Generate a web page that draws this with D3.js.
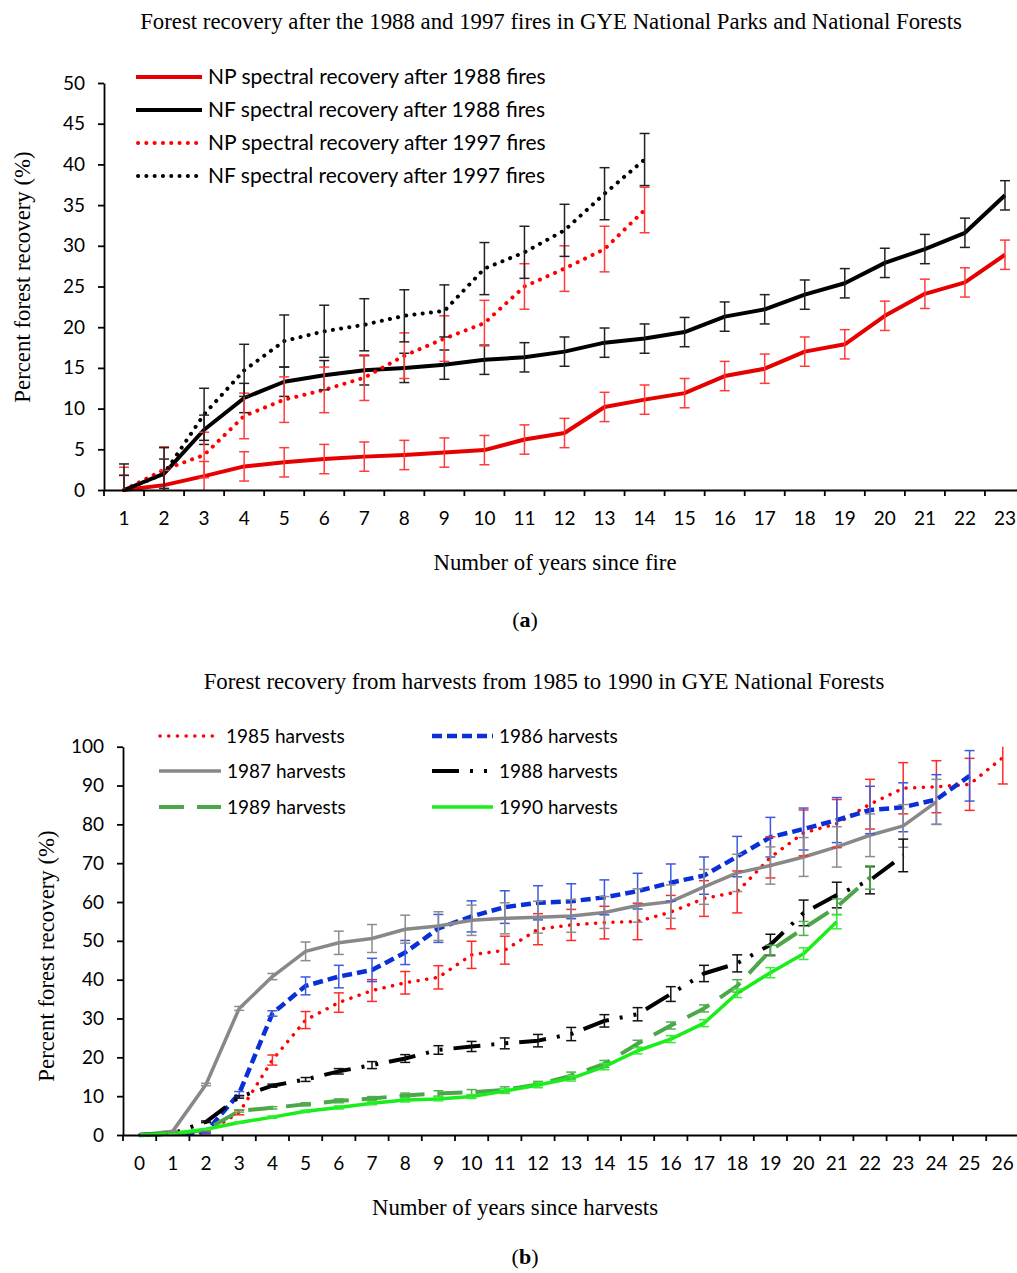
<!DOCTYPE html>
<meta charset="utf-8">
<style>
body { margin: 0; background: #fff; }
text { font-family: Lato, "Liberation Sans", sans-serif; fill: #000; }
.serif { font-family: "Liberation Serif", "Times New Roman", serif; }
.axis path, .axis line { stroke: #000; stroke-width: 1.8px; }
.axis text { font-size: 19px; font-family: Lato, sans-serif; }
</style>
<body>
<script src="https://d3js.org/d3.v7.min.js"></script>
<script>

// ---------- panel (a): fires ----------
var fireYears = [1,2,3,4,5,6,7,8,9,10,11,12,13,14,15,16,17,18,19,20,21,22,23];
var fireTicks = [0,5,10,15,20,25,30,35,40,45,50];

var npFire1988    = [0,0.6,1.7,2.9,3.4,3.8,4.1,4.3,4.6,4.9,6.2,7.0,10.2,11.1,11.9,14.0,14.9,17.0,17.9,21.4,24.1,25.5,28.9];
var npFire1988Err = [1.8,1.8,1.8,1.8,1.8,1.8,1.8,1.8,1.8,1.8,1.8,1.8,1.8,1.8,1.8,1.8,1.8,1.8,1.8,1.8,1.8,1.8,1.8];
var nfFire1988    = [0,2.0,7.4,11.3,13.3,14.1,14.7,15.0,15.4,16.0,16.3,17.0,18.1,18.6,19.4,21.3,22.2,24.0,25.4,27.9,29.6,31.6,36.2];
var nfFire1988Err = [1.8,1.8,1.8,1.8,1.8,1.8,1.8,1.8,1.8,1.8,1.8,1.8,1.8,1.8,1.8,1.8,1.8,1.8,1.8,1.8,1.8,1.8,1.8];
var npFire1997    = [0,2.5,4.3,9.1,11.1,12.3,13.8,16.5,18.6,20.5,25.0,27.2,29.6,34.4];
var npFire1997Err = [2.8,2.8,2.8,2.8,2.8,2.8,2.8,2.8,2.8,2.8,2.8,2.8,2.8,2.8];
var nfFire1997    = [0,2.0,9.3,14.7,18.3,19.5,20.3,21.4,22.0,27.2,29.2,31.9,36.4,40.6];
var nfFire1997Err = [3.2,3.2,3.2,3.2,3.2,3.2,3.2,3.2,3.2,3.2,3.2,3.2,3.2,3.2];

// ---------- panel (b): harvests ----------
var harvestYears = [0,1,2,3,4,5,6,7,8,9,10,11,12,13,14,15,16,17,18,19,20,21,22,23,24,25,26];
var harvestTicks = [0,10,20,30,40,50,60,70,80,90,100];

var h1985    = [0,0.3,0.6,5.8,19.3,29.6,34.1,37.2,39.2,40.6,46.4,47.6,53.0,54.1,54.7,55.0,57.4,60.9,62.6,71.5,77.8,80.2,85.2,89.3,89.7,90.3,97.2];
var h1985Err = [0,0.2,0.3,0.6,1.3,2.2,2.5,2.8,2.9,3.0,3.5,3.6,4.0,4.0,4.2,4.7,4.3,4.6,5.4,5.3,5.9,6.2,6.4,6.6,6.7,6.7,6.8];
var h1986    = [0,0.4,0.8,10.7,31.3,38.4,40.8,42.5,47.0,53.2,56.3,58.7,59.8,60.2,61.2,62.8,65.0,66.8,71.7,76.7,78.8,81.1,83.7,84.4,86.4,92.5];
var h1986Err = [0,0.2,0.3,0.5,0.7,2.3,2.9,3.0,3.1,3.6,4.0,4.2,4.4,4.5,4.5,4.6,4.8,4.8,5.2,5.1,5.4,5.8,6.1,6.3,6.4,6.5];
var h1987    = [0,1.0,13.0,32.6,40.8,47.3,49.5,50.6,53.0,53.8,55.3,55.8,56.1,56.4,57.3,59.1,60.1,63.9,67.5,69.4,71.6,74.2,77.2,79.6,85.8];
var h1987Err = [0,0.1,0.3,0.5,0.8,2.4,3.0,3.6,3.6,3.7,3.9,4.0,4.1,4.2,4.1,4.3,4.3,4.5,4.8,4.8,5.0,5.2,5.5,5.5,5.8];
var h1988    = [0,0.4,3.4,9.8,12.7,14.3,16.4,18.0,19.7,21.9,22.8,23.6,24.3,26.0,29.4,31.1,36.3,41.6,44.2,49.0,57.2,61.8,65.6,72.0];
var h1988Err = [0,0.1,0.2,0.3,0.4,0.5,0.7,0.9,1.0,1.1,1.3,1.4,1.6,1.7,1.6,1.7,1.9,2.1,2.2,2.7,3.3,3.3,3.5,4.2];
var h1989    = [0,0.3,1.3,6.2,7.0,7.9,8.8,9.4,10.2,10.7,11.0,11.6,13.0,15.3,18.3,23.5,28.2,32.6,38.4,47.5,53.2,58.8,66.3];
var h1989Err = [0,0.1,0.2,0.3,0.3,0.4,0.5,0.5,0.6,0.7,0.7,0.8,0.8,0.9,0.9,0.9,0.9,0.9,1.6,1.4,1.8,2.0,3.0];
var h1990    = [0,0.4,1.5,3.2,4.6,6.1,7.1,8.2,9.0,9.3,9.9,11.3,12.9,14.6,17.6,21.7,24.7,28.8,36.5,41.8,46.7,54.9];
var h1990Err = [0,0.1,0.1,0.2,0.3,0.3,0.4,0.4,0.5,0.5,0.5,0.6,0.6,0.7,0.8,0.8,0.9,0.9,1.1,1.3,1.5,1.8];

var svg = d3.select("body").append("svg")
    .attr("width", 1017)
    .attr("height", 1273);

function drawPanel(p) {
    var x = d3.scaleBand().domain(p.categories).range([p.left, p.right]);
    var y = d3.scaleLinear().domain([0, p.yMax]).range([p.bottom, p.top]);
    var cx = function(c) { return x(c) + x.bandwidth() / 2; };
    var g = svg.append("g");

    // lines
    p.series.forEach(function(s) {
        var pts = s.values.map(function(v, i) { return {c: p.categories[i], v: v, e: s.errors[i]}; });
        s.pts = pts;
        g.append("path")
            .datum(pts)
            .attr("fill", "none")
            .attr("stroke", s.color)
            .attr("stroke-width", s.width)
            .attr("stroke-dasharray", s.dash || null)
            .attr("stroke-linecap", s.cap || "butt")
            .attr("stroke-linejoin", "round")
            .attr("d", d3.line().x(function(d) { return cx(d.c); }).y(function(d) { return y(d.v); }));
    });

    // error bars (clipped to the plot area, no cap where clipped)
    p.series.forEach(function(s) {
        var eb = g.append("g").attr("stroke", s.errColor).attr("stroke-width", 1.5);
        s.pts.filter(function(d) { return d.e > 0; }).forEach(function(d) {
            var hi = d.v + d.e, lo = d.v - d.e;
            eb.append("line")
                .attr("x1", cx(d.c)).attr("x2", cx(d.c))
                .attr("y1", y(Math.min(hi, p.yMax))).attr("y2", y(Math.max(lo, 0)));
            if (hi <= p.yMax) eb.append("line")
                .attr("x1", cx(d.c) - 5).attr("x2", cx(d.c) + 5)
                .attr("y1", y(hi)).attr("y2", y(hi));
            if (lo >= 0) eb.append("line")
                .attr("x1", cx(d.c) - 5).attr("x2", cx(d.c) + 5)
                .attr("y1", y(lo)).attr("y2", y(lo));
        });
    });

    // axes
    svg.append("g")
        .attr("class", "axis")
        .attr("transform", "translate(" + p.left + ",0)")
        .call(d3.axisLeft(y).tickValues(p.yTicks).tickSize(6).tickSizeOuter(0).tickPadding(13));

    var xa = svg.append("g")
        .attr("class", "axis")
        .attr("transform", "translate(0," + p.bottom + ")")
        .call(d3.axisBottom(x).tickSize(0).tickSizeOuter(0).tickPadding(22));
    xa.selectAll(".boundary")
        .data(p.categories.concat(["end"]))
        .enter().append("line")
        .attr("class", "boundary")
        .attr("x1", function(c) { return c === "end" ? p.right : x(c); })
        .attr("x2", function(c) { return c === "end" ? p.right : x(c); })
        .attr("y1", 0).attr("y2", 6);

    // titles
    svg.append("text").attr("class", "serif")
        .attr("x", p.titleX).attr("y", p.titleY)
        .attr("text-anchor", "middle").style("font-size", "22.8px")
        .text(p.title);
    svg.append("text").attr("class", "serif")
        .attr("x", p.xTitleX).attr("y", p.xTitleY)
        .attr("text-anchor", "middle").style("font-size", "22.8px")
        .text(p.xTitle);
    svg.append("text").attr("class", "serif")
        .attr("transform", "translate(" + p.yTitleX + "," + p.yTitleY + ") rotate(-90)")
        .attr("text-anchor", "middle").style("font-size", "22.8px")
        .text(p.yTitle);
    var lab = svg.append("text").attr("class", "serif")
        .attr("x", p.labelX).attr("y", p.labelY)
        .attr("text-anchor", "middle").style("font-size", "22px");
    lab.append("tspan").text("(");
    lab.append("tspan").style("font-weight", "bold").text(p.label);
    lab.append("tspan").text(")");

    // legend
    var lg = svg.append("g").attr("class", "legend");
    p.series.forEach(function(s) {
        var L = s.legend;
        lg.append("line")
            .attr("x1", L.x).attr("x2", L.x + L.len)
            .attr("y1", L.y).attr("y2", L.y)
            .attr("stroke", s.color)
            .attr("stroke-width", s.width)
            .attr("stroke-dasharray", s.dash || null)
            .attr("stroke-linecap", s.cap || "butt");
        lg.append("text")
            .attr("x", L.x + L.len + 6).attr("y", L.y)
            .attr("dy", "0.35em")
            .style("font-size", p.legendSize)
            .text(s.name);
    });
}

drawPanel({
    categories: fireYears, yMax: 50, yTicks: fireTicks,
    left: 104, right: 1025, top: 83, bottom: 490,
    title: "Forest recovery after the 1988 and 1997 fires in GYE National Parks and National Forests",
    titleX: 551, titleY: 29,
    xTitle: "Number of years since fire", xTitleX: 555, xTitleY: 570,
    yTitle: "Percent forest recovery (%)", yTitleX: 30, yTitleY: 277,
    label: "a", labelX: 525, labelY: 627,
    legendSize: "21px",
    series: [
        {name: "NP spectral recovery after 1988 fires", values: npFire1988, errors: npFire1988Err,
         color: "#e60000", errColor: "#ff3b3b", width: 4, legend: {x: 136, y: 77, len: 66}},
        {name: "NF spectral recovery after 1988 fires", values: nfFire1988, errors: nfFire1988Err,
         color: "#000", errColor: "#222", width: 4, legend: {x: 136, y: 110, len: 66}},
        {name: "NP spectral recovery after 1997 fires", values: npFire1997, errors: npFire1997Err,
         color: "#ff0000", errColor: "#ff3b3b", width: 4, dash: "0.1 8.2", cap: "round", legend: {x: 138, y: 143, len: 64}},
        {name: "NF spectral recovery after 1997 fires", values: nfFire1997, errors: nfFire1997Err,
         color: "#000", errColor: "#222", width: 4, dash: "0.1 8.2", cap: "round", legend: {x: 138, y: 176, len: 64}}
    ]
});

drawPanel({
    categories: harvestYears, yMax: 100, yTicks: harvestTicks,
    left: 123, right: 1019.4, top: 746.7, bottom: 1135,
    title: "Forest recovery from harvests from 1985 to 1990 in GYE National Forests",
    titleX: 544, titleY: 689,
    xTitle: "Number of years since harvests", xTitleX: 515, xTitleY: 1215,
    yTitle: "Percent forest recovery (%)", yTitleX: 54, yTitleY: 956,
    label: "b", labelX: 525, labelY: 1264,
    legendSize: "19px",
    series: [
        {name: "1985 harvests", values: h1985, errors: h1985Err,
         color: "#ff0000", errColor: "#ff2a2a", width: 3.5, dash: "0.1 8.6", cap: "round", legend: {x: 160, y: 736, len: 60}},
        {name: "1986 harvests", values: h1986, errors: h1986Err,
         color: "#0a2fd6", errColor: "#3a5ae0", width: 4.5, dash: "10 5", legend: {x: 432, y: 736, len: 61}},
        {name: "1987 harvests", values: h1987, errors: h1987Err,
         color: "#888", errColor: "#8c8c8c", width: 3.5, legend: {x: 159, y: 771, len: 62}},
        {name: "1988 harvests", values: h1988, errors: h1988Err,
         color: "#000", errColor: "#111", width: 4, dash: "27 11 3 11 3 11", legend: {x: 432, y: 771, len: 61}},
        {name: "1989 harvests", values: h1989, errors: h1989Err,
         color: "#4ca64a", errColor: "#4fb04c", width: 4, dash: "25 13", legend: {x: 159, y: 807, len: 62}},
        {name: "1990 harvests", values: h1990, errors: h1990Err,
         color: "#1aee1a", errColor: "#33ee33", width: 3.5, legend: {x: 432, y: 807, len: 61}}
    ]
});

</script>
</body>
